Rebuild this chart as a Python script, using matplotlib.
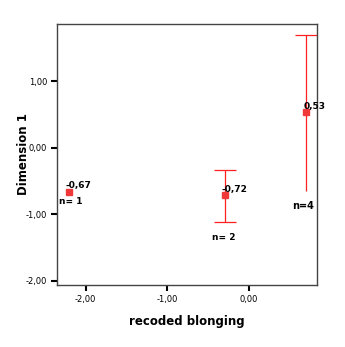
import numpy as np
import matplotlib
matplotlib.use("Agg")
import matplotlib.pyplot as plt

# group means on dimension 1 by recoded belonging
groups = [-2.2, -0.3, 0.7]
means = [-0.67, -0.72, 0.53]
lower = [-0.67, -1.12, -0.66]
upper = [-0.67, -0.33, 1.70]
counts = [1, 2, 4]
mean_labels = ["-0,67", "-0,72", "0,53"]
yticks = [-2, -1, 0, 1]
ytick_labels = ["-2,00", "-1,00", "0,00", "1,00"]
xticks = [-2, -1, 0]
xtick_labels = ["-2,00", "-1,00", "0,00"]

fig = plt.figure(figsize=(3.45, 3.47), dpi=100)
ax = fig.add_axes([0.165, 0.179, 0.754, 0.752])

red = "#ff2020"
cap = 0.135
for x, lo, hi, n in zip(groups, lower, upper, counts):
    if n < 2:
        continue
    ax.vlines(x, lo, hi, color=red, lw=0.9)
    ax.hlines(hi, x - cap, x + cap, color=red, lw=0.9)
    if n < 4:
        ax.hlines(lo, x - cap, x + cap, color=red, lw=0.9)
ax.plot(groups, means, "s", color="#f03838", markersize=5, zorder=3)

# value labels and group sizes
ax.text(groups[0] - 0.05, means[0] + 0.03, mean_labels[0], fontsize=6.5,
        fontweight="bold", ha="left", va="bottom")
ax.text(groups[0] - 0.12, means[0] - 0.08, "n= %d" % counts[0], fontsize=6.5,
        fontweight="bold", ha="left", va="top")
ax.text(groups[1] - 0.04, means[1] + 0.02, mean_labels[1], fontsize=6.5,
        fontweight="bold", ha="left", va="bottom")
ax.text(groups[1] - 0.15, -1.35, "n= %d" % counts[1], fontsize=6.5,
        fontweight="bold", ha="left", va="center")
ax.text(groups[2] - 0.03, means[2] + 0.02, mean_labels[2], fontsize=6.5,
        fontweight="bold", ha="left", va="bottom")
ax.text(groups[2] - 0.18, -0.88, "n=%d" % counts[2], fontsize=7,
        fontweight="bold", ha="left", va="center")

ax.set_xlim(-2.35, 0.83)
ax.set_ylim(-2.065, 1.86)
ax.set_xticks(xticks)
ax.set_xticklabels(xtick_labels)
ax.set_yticks(yticks)
ax.set_yticklabels(ytick_labels)
ax.tick_params(direction="out", length=4, width=1.5, labelsize=6, pad=3,
               color="black")
for s in ax.spines.values():
    s.set_color("#444444")
    s.set_linewidth(1)

ax.set_xlabel("recoded blonging", fontsize=8.5, fontweight="bold", labelpad=8)
ax.set_ylabel("Dimension 1", fontsize=8.5, fontweight="bold", labelpad=-3)

fig.savefig("out.png", dpi=100)
